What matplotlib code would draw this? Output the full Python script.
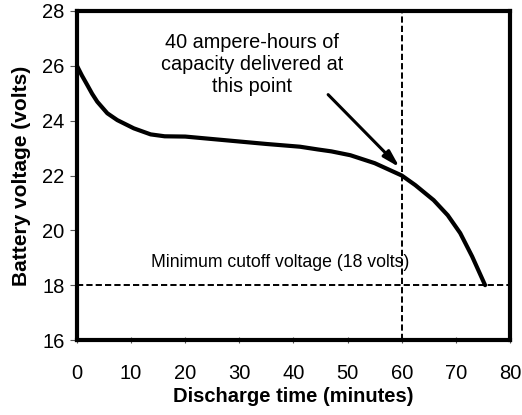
import matplotlib
matplotlib.use("Agg")
import matplotlib.pyplot as plt

plt.rcParams["font.family"] = ["Liberation Sans", "DejaVu Sans"]

# discharge curve
time_min = [0, 0.9, 1.9, 2.8, 3.75, 5.6, 7.45, 10.5, 13.6, 16.2, 20, 25, 30,
            35, 41.2, 44.5, 47, 50.5, 55, 60, 62.5, 65.9, 68.5, 70.8, 73, 75.4]
voltage = [26.0, 25.65, 25.3, 24.98, 24.69, 24.27, 24.02, 23.72, 23.5, 23.43,
           23.42, 23.33, 23.24, 23.15, 23.05, 22.95, 22.88, 22.74, 22.45,
           22.0, 21.65, 21.1, 20.55, 19.9, 19.05, 18.0]

cutoff_v = 18
capacity_t = 60
x_ticks = [0, 10, 20, 30, 40, 50, 60, 70, 80]
y_ticks = [16, 18, 20, 22, 24, 26, 28]

fig = plt.figure(figsize=(5.22, 4.15), dpi=100)
ax = fig.add_axes([0.1475, 0.1807, 0.8295, 0.7928])

ax.plot(time_min, voltage, color="black", lw=3.0, solid_capstyle="round",
        solid_joinstyle="round")
ax.axhline(cutoff_v, color="black", lw=1.4, ls=(0, (3.2, 1.6)))
ax.axvline(capacity_t, color="black", lw=1.4, ls=(0, (3.2, 1.6)))

ax.text(32.3, 26.05, "40 ampere-hours of\ncapacity delivered at\nthis point",
        ha="center", va="center", fontsize=14.3, linespacing=1.2)
ax.annotate("", xy=(59.6, 22.3), xytext=(46.4, 24.95),
            arrowprops=dict(arrowstyle="-|>,head_length=1.0,head_width=0.28",
                            color="black", lw=2.2, shrinkA=0, shrinkB=0))
ax.text(37.5, 18.5, "Minimum cutoff voltage (18 volts)",
        ha="center", va="bottom", fontsize=12.7)

ax.set_xlim(0, 80)
ax.set_ylim(16, 28)
ax.set_xticks(x_ticks)
ax.set_yticks(y_ticks)
ax.tick_params(axis="both", direction="inout", length=5, width=0.8,
               color="#555555", labelsize=14.5)
ax.tick_params(axis="x", pad=15)
ax.tick_params(axis="y", direction="out", pad=4)
for s in ax.spines.values():
    s.set_linewidth(3.0)

ax.set_xlabel("Discharge time (minutes)", fontsize=14.5, fontweight="bold",
              labelpad=3)
ax.set_ylabel("Battery voltage (volts)", fontsize=15, fontweight="bold",
              labelpad=8)

fig.savefig("out.png", dpi=100)
